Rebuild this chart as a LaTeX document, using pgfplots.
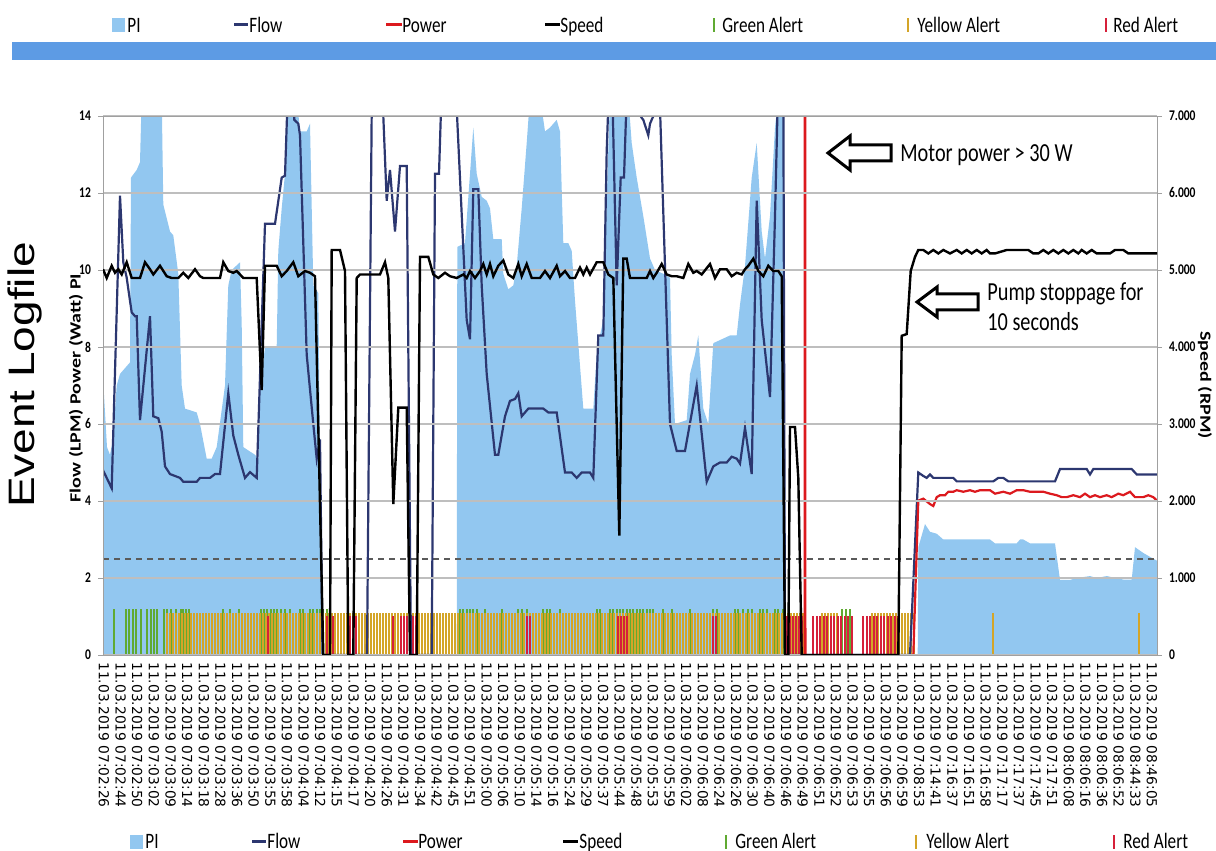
\documentclass[border=0pt]{standalone}
\usepackage{pgfplots}
\pgfplotsset{compat=1.18}
\usepackage{fontspec}
\usepackage{graphicx}
\setmainfont{Carlito}
\newfontfamily\cf[FakeStretch=0.78]{Carlito}
\newfontfamily\ls{Liberation Sans}
\newfontfamily\dv{DejaVu Sans}
\definecolor{piblue}{RGB}{146,199,240}
\definecolor{flowc}{RGB}{44,55,112}
\definecolor{powc}{RGB}{220,25,30}
\definecolor{greenA}{RGB}{96,170,50}
\definecolor{yellowA}{RGB}{212,165,40}
\definecolor{redA}{RGB}{214,32,58}
\definecolor{band}{RGB}{93,155,228}
\definecolor{gridc}{RGB}{190,190,190}
\definecolor{axc}{RGB}{160,160,160}
\definecolor{dashc}{RGB}{90,90,90}
\newcommand{\leg}{\cf\fontsize{11}{13}\selectfont}
\newcommand{\tk}{\cf\bfseries\fontsize{7.4}{8}\selectfont}
\pgfplotsset{common/.style={at={(0pt,0pt)}, anchor=south west, scale only axis,
  width=527pt, height=269.5pt, xmin=-1, xmax=1053, tick align=outside, major tick length=2.5pt}}
\begin{document}
\begin{tikzpicture}
\path[use as bounding box] (-51.5pt,-98pt) rectangle (556.5pt,327.5pt);
\begin{axis}[common, ymin=0, ymax=14, axis on top,
  axis line style={axc}, ytick pos=left,
  ytick={0,2,...,14}, yticklabels={0,2,4,6,8,10,12,14},
  yticklabel style={font=\tk},
  ytick style={axc},
  ymajorgrids, grid style={gridc, line width=0.6pt},
  xtick={0,16.635,...,1049},
  xtick style={draw=none},
  xticklabels={11.03.2019 07:02:26,11.03.2019 07:02:44,11.03.2019 07:02:50,11.03.2019 07:03:02,11.03.2019 07:03:09,11.03.2019 07:03:14,11.03.2019 07:03:18,11.03.2019 07:03:28,11.03.2019 07:03:36,11.03.2019 07:03:50,11.03.2019 07:03:55,11.03.2019 07:03:58,11.03.2019 07:04:04,11.03.2019 07:04:12,11.03.2019 07:04:15,11.03.2019 07:04:17,11.03.2019 07:04:20,11.03.2019 07:04:26,11.03.2019 07:04:31,11.03.2019 07:04:34,11.03.2019 07:04:42,11.03.2019 07:04:45,11.03.2019 07:04:51,11.03.2019 07:05:00,11.03.2019 07:05:06,11.03.2019 07:05:10,11.03.2019 07:05:14,11.03.2019 07:05:16,11.03.2019 07:05:24,11.03.2019 07:05:29,11.03.2019 07:05:37,11.03.2019 07:05:44,11.03.2019 07:05:48,11.03.2019 07:05:53,11.03.2019 07:05:59,11.03.2019 07:06:02,11.03.2019 07:06:08,11.03.2019 07:06:24,11.03.2019 07:06:26,11.03.2019 07:06:30,11.03.2019 07:06:40,11.03.2019 07:06:46,11.03.2019 07:06:49,11.03.2019 07:06:51,11.03.2019 07:06:52,11.03.2019 07:06:53,11.03.2019 07:06:55,11.03.2019 07:06:56,11.03.2019 07:06:59,11.03.2019 07:08:53,11.03.2019 07:14:41,11.03.2019 07:16:37,11.03.2019 07:16:51,11.03.2019 07:16:58,11.03.2019 07:17:17,11.03.2019 07:17:37,11.03.2019 07:17:45,11.03.2019 07:17:51,11.03.2019 08:06:08,11.03.2019 08:06:16,11.03.2019 08:06:36,11.03.2019 08:06:52,11.03.2019 08:44:33,11.03.2019 08:46:05},
  xticklabel style={rotate=-90, anchor=west, font=\dv\fontsize{6.9}{8}\selectfont, inner sep=1pt},
]
% PI area
\addplot[fill=piblue, draw=none] coordinates {(-1,7.2) (3,5.4) (6,5.2) (9,5.6) (12.7,7.0) (16,7.3) (19.3,7.4) (26,7.6) (27,12.4) (32.7,12.6) (36,12.8) (37.7,14.5) (57.7,14.5) (59.3,11.7) (66,11.0) (69.3,10.9) (74.3,9.9) (77.7,7.0) (81,6.4) (92.7,6.3) (96,6.0) (102.7,5.1) (107.7,5.1) (112.7,5.4) (121,7.0) (124.3,9.6) (127.7,10.0) (136,10.2) (137.7,8.6) (139.3,5.4) (151,5.2) (154.3,5.1) (156,6.9) (161,8.0) (172.7,8.0) (174.3,10.5) (177.7,11.6) (181,12.5) (184.3,14.5) (192.7,14.5) (196,13.6) (202.7,13.6) (206,13.8) (209.3,9.6) (214.3,9.4) (216,5) (217.7,0) (352.7,0) (353.3,10.6) (361,10.7) (366,12.5) (369.3,13.7) (372.7,12.5) (377.7,11.9) (382.7,11.8) (386,11.6) (389.3,10.8) (397.7,10.8) (399.3,9.9) (404.3,9.5) (409.3,9.6) (412.7,10.1) (417.7,11.6) (422.7,13.3) (426,14.5) (436,14.5) (441,13.6) (446,13.7) (452.7,13.9) (456,13.6) (459.3,10.7) (464.3,10.7) (467.7,10.5) (471,9.2) (479.3,6.4) (489.3,6.4) (492.7,7.8) (496,8.3) (499.3,8.7) (502.7,11.8) (506,14.5) (524.3,14.5) (527.7,13.3) (532.7,12.4) (539.3,11.4) (546,10.3) (551,10.0) (559.3,9.9) (566,9.8) (567.7,7.8) (571,6.0) (582.7,6.1) (586,7.3) (591,7.8) (594.3,8.3) (599.3,6.4) (604.3,6.0) (609.3,8.1) (626,8.3) (632.7,8.3) (636,9.1) (641,10.1) (647.7,12.4) (652.7,13.3) (657.7,11.0) (661,10.3) (666,11.4) (671,13.7) (674.3,14.5) (679.3,14.5) (680.3,0) (813.7,0) (814.3,2.8) (821,3.4) (826,3.2) (832.7,3.15) (839.3,3.0) (886,3.0) (891,2.9) (912.7,2.9) (916,3.0) (919.3,3.0) (926,2.9) (951,2.9) (956,1.95) (966,1.95) (972.7,2.0) (986,2.05) (992.7,2.0) (1002.7,2.05) (1019.3,1.96) (1027.7,1.96) (1031,2.8) (1039.3,2.65) (1049.3,2.5) (1053,2.45)} \closedcycle;
% threshold
\addplot[dashc, line width=0.8pt, dash pattern=on 3pt off 2.5pt] coordinates {(-1,2.5) (1053,2.5)};
% Green alerts
\addplot[ycomb, greenA, line width=1pt] coordinates {(10,1.2) (22,1.2) (25,1.2) (29,1.2) (32,1.2) (37,1.2) (43,1.2) (47,1.2) (50,1.2) (53,1.2) (60,1.2) (63,1.2) (67,1.2) (72,1.2) (77,1.2) (79,1.2) (82,1.2) (85,1.2) (119,1.2) (126,1.2) (135,1.2) (157,1.2) (160,1.2) (163,1.2) (167,1.2) (170,1.2) (173,1.2) (177,1.2) (181,1.2) (186,1.2) (196,1.2) (199,1.2) (206,1.2) (209,1.2) (213,1.2) (216,1.2) (219,1.2) (223,1.2) (356,1.2) (359,1.2) (363,1.2) (366,1.2) (369,1.2) (373,1.2) (381,1.2) (398,1.2) (414,1.2) (418,1.2) (423,1.2) (439,1.2) (443,1.2) (446,1.2) (456,1.2) (493,1.2) (496,1.2) (506,1.2) (509,1.2) (513,1.2) (516,1.2) (519,1.2) (523,1.2) (526,1.2) (529,1.2) (533,1.2) (536,1.2) (539,1.2) (543,1.2) (546,1.2) (549,1.2) (559,1.2) (568,1.2) (586,1.2) (609,1.2) (613,1.2) (631,1.2) (634,1.2) (639,1.2) (644,1.2) (648,1.2) (656,1.2) (659,1.2) (663,1.2) (671,1.2) (674,1.2) (679,1.2) (738,1.2) (742,1.2) (746,1.2)};
% Yellow alerts
\addplot[ycomb, yellowA, line width=1pt] coordinates {(63,1.1) (66,1.1) (69,1.1) (72,1.1) (75,1.1) (78,1.1) (81,1.1) (84,1.1) (87,1.1) (90,1.1) (93,1.1) (96,1.1) (99,1.1) (102,1.1) (105,1.1) (108,1.1) (111,1.1) (114,1.1) (117,1.1) (120,1.1) (123,1.1) (126,1.1) (129,1.1) (132,1.1) (135,1.1) (138,1.1) (141,1.1) (144,1.1) (147,1.1) (150,1.1) (153,1.1) (156,1.1) (159,1.1) (162,1.1) (165,1.1) (168,1.1) (171,1.1) (174,1.1) (177,1.1) (180,1.1) (183,1.1) (186,1.1) (189,1.1) (192,1.1) (195,1.1) (198,1.1) (201,1.1) (204,1.1) (207,1.1) (210,1.1) (213,1.1) (216,1.1) (219,1.1) (222,1.1) (225,1.1) (228,1.1) (231,1.1) (234,1.1) (237,1.1) (240,1.1) (243,1.1) (246,1.1) (249,1.1) (252,1.1) (255,1.1) (258,1.1) (261,1.1) (264,1.1) (267,1.1) (270,1.1) (273,1.1) (276,1.1) (279,1.1) (282,1.1) (285,1.1) (288,1.1) (291,1.1) (294,1.1) (297,1.1) (300,1.1) (303,1.1) (306,1.1) (309,1.1) (312,1.1) (315,1.1) (318,1.1) (321,1.1) (324,1.1) (327,1.1) (330,1.1) (333,1.1) (336,1.1) (339,1.1) (342,1.1) (345,1.1) (348,1.1) (351,1.1) (354,1.1) (357,1.1) (360,1.1) (363,1.1) (366,1.1) (369,1.1) (372,1.1) (375,1.1) (378,1.1) (381,1.1) (384,1.1) (387,1.1) (390,1.1) (393,1.1) (396,1.1) (399,1.1) (402,1.1) (405,1.1) (408,1.1) (411,1.1) (414,1.1) (417,1.1) (420,1.1) (423,1.1) (426,1.1) (429,1.1) (432,1.1) (435,1.1) (438,1.1) (441,1.1) (444,1.1) (447,1.1) (450,1.1) (453,1.1) (456,1.1) (459,1.1) (462,1.1) (465,1.1) (468,1.1) (471,1.1) (474,1.1) (477,1.1) (480,1.1) (483,1.1) (486,1.1) (489,1.1) (492,1.1) (495,1.1) (498,1.1) (501,1.1) (504,1.1) (507,1.1) (510,1.1) (513,1.1) (516,1.1) (519,1.1) (522,1.1) (525,1.1) (528,1.1) (531,1.1) (534,1.1) (537,1.1) (540,1.1) (543,1.1) (546,1.1) (549,1.1) (552,1.1) (555,1.1) (558,1.1) (561,1.1) (564,1.1) (567,1.1) (570,1.1) (573,1.1) (576,1.1) (579,1.1) (582,1.1) (585,1.1) (588,1.1) (591,1.1) (594,1.1) (597,1.1) (600,1.1) (603,1.1) (606,1.1) (609,1.1) (612,1.1) (615,1.1) (618,1.1) (621,1.1) (624,1.1) (627,1.1) (630,1.1) (633,1.1) (636,1.1) (639,1.1) (642,1.1) (645,1.1) (648,1.1) (651,1.1) (654,1.1) (657,1.1) (660,1.1) (663,1.1) (666,1.1) (669,1.1) (672,1.1) (675,1.1) (678,1.1) (681,1.1) (684,1.1) (687,1.1) (690,1.1) (693,1.1) (696,1.1) (699,1.1) (718,1.1) (721,1.1) (724,1.1) (727,1.1) (730,1.1) (733,1.1) (768,1.1) (771,1.1) (774,1.1) (777,1.1) (780,1.1) (783,1.1) (786,1.1) (789,1.1) (792,1.1) (795,1.1) (798,1.1) (801,1.1) (804,1.1) (807,1.1) (810,1.1) (889,1.1) (1035,1.1)};
% Red alerts
\addplot[ycomb, redA, line width=1pt] coordinates {(164,1) (223,1) (226,1) (229,1) (246,1) (249,1) (252,1) (289,1) (297,1) (300,1) (303,1) (306,1) (309,1) (312,1) (423,1) (426,1) (514,1) (517,1) (520,1) (523,1) (609,1) (612,1) (683,1) (686,1) (689,1) (692,1) (695,1) (698,1) (709,1) (712.5,1) (716,1) (719.5,1) (723,1) (726.5,1) (730,1) (733.5,1) (737,1) (740.5,1) (744,1) (747.5,1) (759,1) (762.5,1) (766,1) (769.5,1) (773,1) (776.5,1) (780,1) (783.5,1) (787,1) (790.5,1) (794,1)};
% Flow
\addplot[flowc, line width=1.1pt] coordinates {(-1,4.8) (7.7,4.33) (16,11.93) (19.3,10.2) (22.7,9.8) (26,9.2) (27.7,8.9) (31,8.8) (32.7,8.8) (36,6.1) (46,8.8) (49.3,6.2) (54.3,6.15) (57.7,5.8) (61,4.9) (66,4.7) (76,4.6) (79.3,4.5) (92.7,4.5) (96,4.6) (106,4.6) (111,4.7) (116,4.7) (124.3,6.8) (129.3,5.7) (134.3,5.2) (141,4.6) (146,4.75) (152.7,4.6) (161,11.2) (171,11.2) (177.7,12.4) (181,12.45) (184.3,15) (188,15) (190.3,13.9) (194.3,13.8) (196,13.5) (202.7,7.8) (209.3,6.0) (212.7,5.1) (216,5.6) (218.5,0) (263,0) (268,15) (277,15) (279.3,14) (282.7,11.8) (286,12.6) (291,11.0) (296,12.7) (302.7,12.7) (307,0) (327.7,0) (331,12.5) (335,12.5) (338,15) (350,15) (352.7,14.2) (362.7,8.7) (366,8.2) (369.3,12.1) (374.3,12.1) (377.7,9.6) (382.7,7.3) (391,5.2) (394.3,5.2) (401,6.2) (406,6.6) (411,6.65) (414.3,6.8) (417.7,6.2) (424.3,6.4) (439.3,6.4) (444.3,6.3) (452.7,6.3) (461,4.74) (467.7,4.74) (472.7,4.6) (477.7,4.74) (486,4.74) (489.3,4.6) (494.3,8.3) (499.3,8.3) (502.7,13.1) (505.3,15) (508,15) (512.7,9.6) (516.7,12.4) (520,12.4) (523.3,15) (531,15) (532.7,14.2) (537.7,13.95) (539.3,13.9) (544.3,13.5) (546,13.8) (552.7,14.2) (556,14.2) (566,6.0) (572.7,5.3) (581,5.3) (592.7,7.0) (602.7,4.5) (609.3,4.9) (616,5.0) (622.7,5.0) (627.7,5.15) (632.7,5.1) (636,4.97) (641,5.9) (647.7,4.7) (652.7,11.8) (657.7,8.7) (666,6.7) (671,11.4) (674.3,15) (679.3,15) (681,0) (806,0) (814.3,4.74) (819.3,4.65) (822.7,4.6) (826,4.69) (829.3,4.6) (849.3,4.6) (852.7,4.51) (889.3,4.51) (894.3,4.6) (899.3,4.6) (904.3,4.51) (951,4.51) (956,4.83) (982.7,4.83) (986,4.69) (989.3,4.83) (1027.7,4.83) (1032.7,4.69) (1053,4.69)};
% Power: spike above 30 W
\addplot[powc, line width=1.1pt] coordinates {(700.6,0) (701,35) (701.4,0)};
% Power after restart
\addplot[powc, line width=1.1pt] coordinates {(809.3,0) (814.3,4.01) (819.3,4.06) (826,3.92) (829.3,3.87) (832.7,4.10) (836,4.15) (841,4.15) (844.3,4.24) (849.3,4.24) (852.7,4.28) (859.3,4.24) (866,4.28) (871,4.24) (876,4.28) (886,4.28) (891,4.19) (899.3,4.24) (906,4.19) (912.7,4.28) (919.3,4.28) (926,4.24) (939.3,4.24) (946,4.19) (952.7,4.15) (957.7,4.10) (962.7,4.10) (969.3,4.15) (976,4.10) (981,4.19) (986,4.10) (991,4.15) (996,4.10) (1002.7,4.15) (1007.7,4.10) (1014.3,4.19) (1019.3,4.15) (1026,4.24) (1031,4.10) (1039.3,4.10) (1044.3,4.15) (1049.3,4.10) (1053,4.01)};
\end{axis}
\begin{axis}[common, ymin=0, ymax=7000, axis x line=none, axis y line*=right,
  y axis line style={axc}, ytick style={axc}, scaled y ticks=false,
  ytick={0,1000,...,7000}, yticklabels={0,1.000,2.000,3.000,4.000,5.000,6.000,7.000},
  yticklabel style={font=\tk}]
\addplot[black, line width=1.2pt] coordinates {(-1,5010) (2.7,4896) (7.7,5055) (11,4964) (14.3,5010) (17.7,4942) (22.7,5101) (27.7,4896) (36,4896) (41,5101) (46,5010) (49.3,4942) (56,5055) (62.7,4919) (67.7,4896) (74.3,4896) (79.3,4964) (84.3,4896) (91,5010) (96,4919) (99.3,4896) (116,4896) (119.3,5101) (124.3,4987) (129.3,4964) (132.7,4987) (136,4942) (139.3,4896) (152.7,4896) (157.7,3439) (161,5055) (172.7,5055) (177.7,4919) (182.7,4987) (189.3,5101) (194.3,4919) (201,4987) (206,4964) (211,4919) (219.3,0) (226,0) (227.7,5260) (236,5260) (241,4987) (244.3,0) (249.3,0) (252.7,4896) (256,4942) (276,4942) (281,5101) (284.3,4896) (289.3,1959) (294.3,3212) (302.7,3212) (306,0) (312.7,0) (316,5170) (324.3,5170) (329.3,4942) (334.3,4896) (341,4964) (346,4919) (352.7,4896) (359.3,4942) (362.7,4896) (366,4987) (371,4896) (376,4987) (379.3,5078) (382.7,4942) (386,5078) (389.3,4919) (394.3,5055) (399.3,5124) (404.3,4942) (409.3,4896) (414.3,5078) (417.7,4919) (422.7,5078) (427.7,4896) (436,4896) (441,4987) (446,4896) (452.7,5055) (456,4919) (461,4987) (466,4896) (471,4896) (476,5032) (479.3,4942) (482.7,5032) (486,4942) (492.7,5101) (499.3,5101) (504.3,4942) (509.3,4896) (512.7,3000) (515.3,1550) (519.3,5147) (522.7,5147) (526,4896) (542.7,4896) (546,4987) (549.3,4896) (552.7,4964) (557.7,5078) (562.7,4942) (567.7,4919) (572.7,4919) (579.3,4896) (584.3,5078) (589.3,4964) (592.7,4987) (597.7,4942) (606,5078) (611,4896) (616,5010) (622.7,5010) (627.7,4919) (632.7,4964) (637.7,4942) (641,5010) (644.3,5055) (649.3,5147) (654.3,4987) (659.3,4919) (664.3,5055) (669.3,4987) (674.3,4987) (677.7,4919) (681,0) (684.3,0) (686,2961) (691,2961) (694.3,2301) (697.7,0) (794.3,0) (797.7,4145) (802.7,4168) (806.7,4987) (811,5170) (814.3,5260) (819.3,5260) (824.3,5215) (829.3,5260) (834.3,5215) (839.3,5260) (846,5215) (852.7,5260) (857.7,5215) (862.7,5260) (867.7,5215) (872.7,5260) (877.7,5215) (882.7,5260) (886,5215) (891,5215) (902.7,5260) (924.3,5260) (929.3,5215) (934.3,5215) (939.3,5260) (944.3,5215) (949.3,5260) (954.3,5215) (959.3,5260) (964.3,5215) (969.3,5260) (974.3,5215) (977.7,5260) (982.7,5215) (987.7,5260) (992.7,5215) (997.7,5215) (1006,5215) (1011,5260) (1019.3,5260) (1024.3,5215) (1053,5215)};
\end{axis}
% blue band
\fill[band] (-45.5pt,297.5pt) rectangle (556.5pt,306.5pt);
% titles
\node[rotate=90, font=\ls\fontsize{23}{26}\selectfont] at (-39pt,140pt) {\scalebox{1}[0.8]{Event Logfile}};
\node[rotate=90, font=\bfseries\fontsize{10}{12}\selectfont] at (-13.5pt,133.5pt) {\scalebox{1}[0.78]{Flow (LPM) Power (Watt) PI}};
\node[rotate=-90, font=\bfseries\fontsize{10}{12}\selectfont] at (551pt,135pt) {\scalebox{1}[0.78]{Speed (RPM)}};
% annotations
\draw[line width=1.5pt, fill=white, line join=miter] (362.5pt,251pt) -- (373.5pt,259.5pt) -- (373.5pt,255pt) -- (394pt,255pt) -- (394pt,247pt) -- (373.5pt,247pt) -- (373.5pt,242.5pt) -- cycle;
\node[anchor=west, inner sep=0, font=\cf\fontsize{13}{15}\selectfont] at (398.5pt,250pt) {Motor power > 30 W};
\draw[line width=1.5pt, fill=white, line join=miter] (407pt,176.5pt) -- (417pt,184pt) -- (417pt,180.5pt) -- (437.5pt,180.5pt) -- (437.5pt,172.5pt) -- (417pt,172.5pt) -- (417pt,169pt) -- cycle;
\node[anchor=west, inner sep=0, align=left, font=\cf\fontsize{13}{15}\selectfont] at (442pt,174pt) {Pump stoppage for\\10 seconds};
% top legend
\fill[piblue] (4.5pt,311.5pt) rectangle (11pt,318.5pt);
\node[anchor=base west, inner sep=0, font=\leg] at (12pt,311pt) {PI};
\draw[flowc, line width=1.5pt] (65.5pt,315pt) -- (72.5pt,315pt);
\node[anchor=base west, inner sep=0, font=\leg] at (73pt,311pt) {Flow};
\draw[powc, line width=1.5pt] (141.5pt,315pt) -- (149.5pt,315pt);
\node[anchor=base west, inner sep=0, font=\leg] at (149.5pt,311pt) {Power};
\draw[black, line width=1.5pt] (221pt,315pt) -- (228.5pt,315pt);
\node[anchor=base west, inner sep=0, font=\leg] at (228.5pt,311pt) {Speed};
\draw[greenA, line width=0.6pt] (305.5pt,311.5pt) -- (305.5pt,318.5pt);
\node[anchor=base west, inner sep=0, font=\leg] at (309.5pt,311pt) {Green Alert};
\draw[yellowA, line width=0.6pt] (402.5pt,311.5pt) -- (402.5pt,318.5pt);
\node[anchor=base west, inner sep=0, font=\leg] at (407pt,311pt) {Yellow Alert};
\draw[redA, line width=0.6pt] (501.5pt,311.5pt) -- (501.5pt,318.5pt);
\node[anchor=base west, inner sep=0, font=\leg] at (505pt,311pt) {Red Alert};
% bottom legend
\fill[piblue] (13.5pt,-97pt) rectangle (20pt,-90pt);
\node[anchor=base west, inner sep=0, font=\leg] at (21pt,-97pt) {PI};
\draw[flowc, line width=1.5pt] (74.5pt,-93.5pt) -- (81.5pt,-93.5pt);
\node[anchor=base west, inner sep=0, font=\leg] at (82pt,-97pt) {Flow};
\draw[powc, line width=1.5pt] (150pt,-93.5pt) -- (157.5pt,-93.5pt);
\node[anchor=base west, inner sep=0, font=\leg] at (157.5pt,-97pt) {Power};
\draw[black, line width=1.5pt] (230pt,-93.5pt) -- (237.5pt,-93.5pt);
\node[anchor=base west, inner sep=0, font=\leg] at (238pt,-97pt) {Speed};
\draw[greenA, line width=0.6pt] (311.5pt,-97pt) -- (311.5pt,-90pt);
\node[anchor=base west, inner sep=0, font=\leg] at (316pt,-97pt) {Green Alert};
\draw[yellowA, line width=0.6pt] (406.5pt,-97pt) -- (406.5pt,-90pt);
\node[anchor=base west, inner sep=0, font=\leg] at (411.5pt,-97pt) {Yellow Alert};
\draw[redA, line width=0.6pt] (505.5pt,-97pt) -- (505.5pt,-90pt);
\node[anchor=base west, inner sep=0, font=\leg] at (510pt,-97pt) {Red Alert};
\end{tikzpicture}
\end{document}
